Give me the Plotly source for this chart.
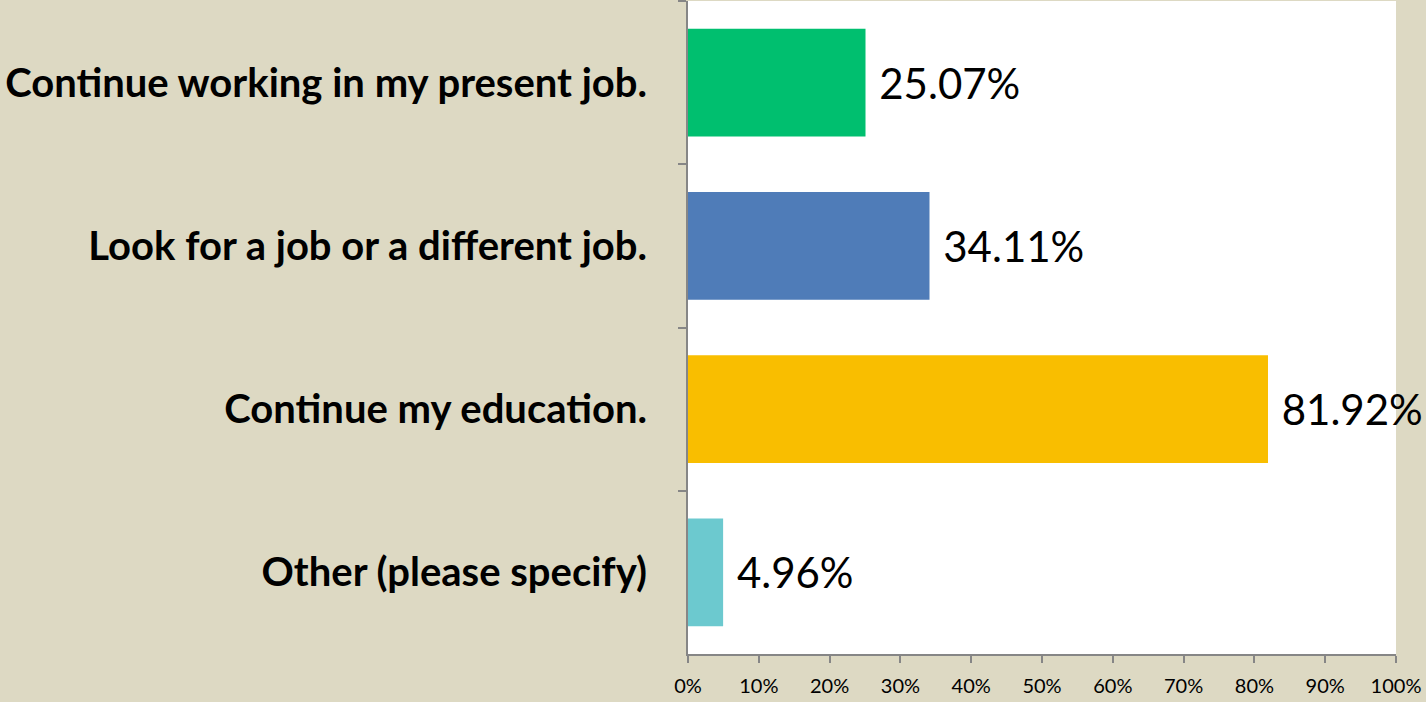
import plotly.graph_objects as go

categories = ["Continue working in my present job.", "Look for a job or a different job.",
              "Continue my education.", "Other (please specify)"]
values = [25.07, 34.11, 81.92, 4.96]
colors = ["#00BF6F", "#4F7CB8", "#F9BE00", "#6CC9CF"]
tick_vals = list(range(0, 101, 10))
tick_text = [f"{v}%" for v in tick_vals]

fig = go.Figure(go.Bar(
    x=values, y=categories, orientation="h",
    marker=dict(color=colors, line=dict(width=0)),
    texttemplate=" %{x:.2f}%", textposition="outside",
    textfont=dict(family="Lato", size=42, color="black"),
    cliponaxis=False, width=0.66,
))

fig.update_layout(
    width=1426, height=702,
    margin=dict(l=688, r=30, t=1, b=48),
    paper_bgcolor="#DDD9C3", plot_bgcolor="white",
    showlegend=False,
    font=dict(family="Lato", color="black"),
)
fig.update_xaxes(
    range=[0, 100], tickvals=tick_vals, ticktext=tick_text,
    showgrid=False, zeroline=False,
    showline=True, linecolor="#868686", linewidth=2,
    ticks="outside", ticklen=7, tickcolor="#868686", tickwidth=2,
    ticklabelstandoff=6,
    tickfont=dict(family="Lato", size=20, color="black"),
)
fig.update_yaxes(
    categoryorder="array", categoryarray=categories, autorange="reversed",
    showgrid=False, zeroline=False,
    showline=True, linecolor="#868686", linewidth=2,
    ticks="outside", ticklen=8, tickcolor="#868686", tickwidth=2,
    tickson="boundaries", ticklabelstandoff=31,
    tickfont=dict(family="Lato", size=40, color="black", weight="bold"),
)

fig.write_html("out.html", config={"displayModeBar": False},
               post_script="document.body.style.margin='0';document.body.style.overflow='hidden';")
